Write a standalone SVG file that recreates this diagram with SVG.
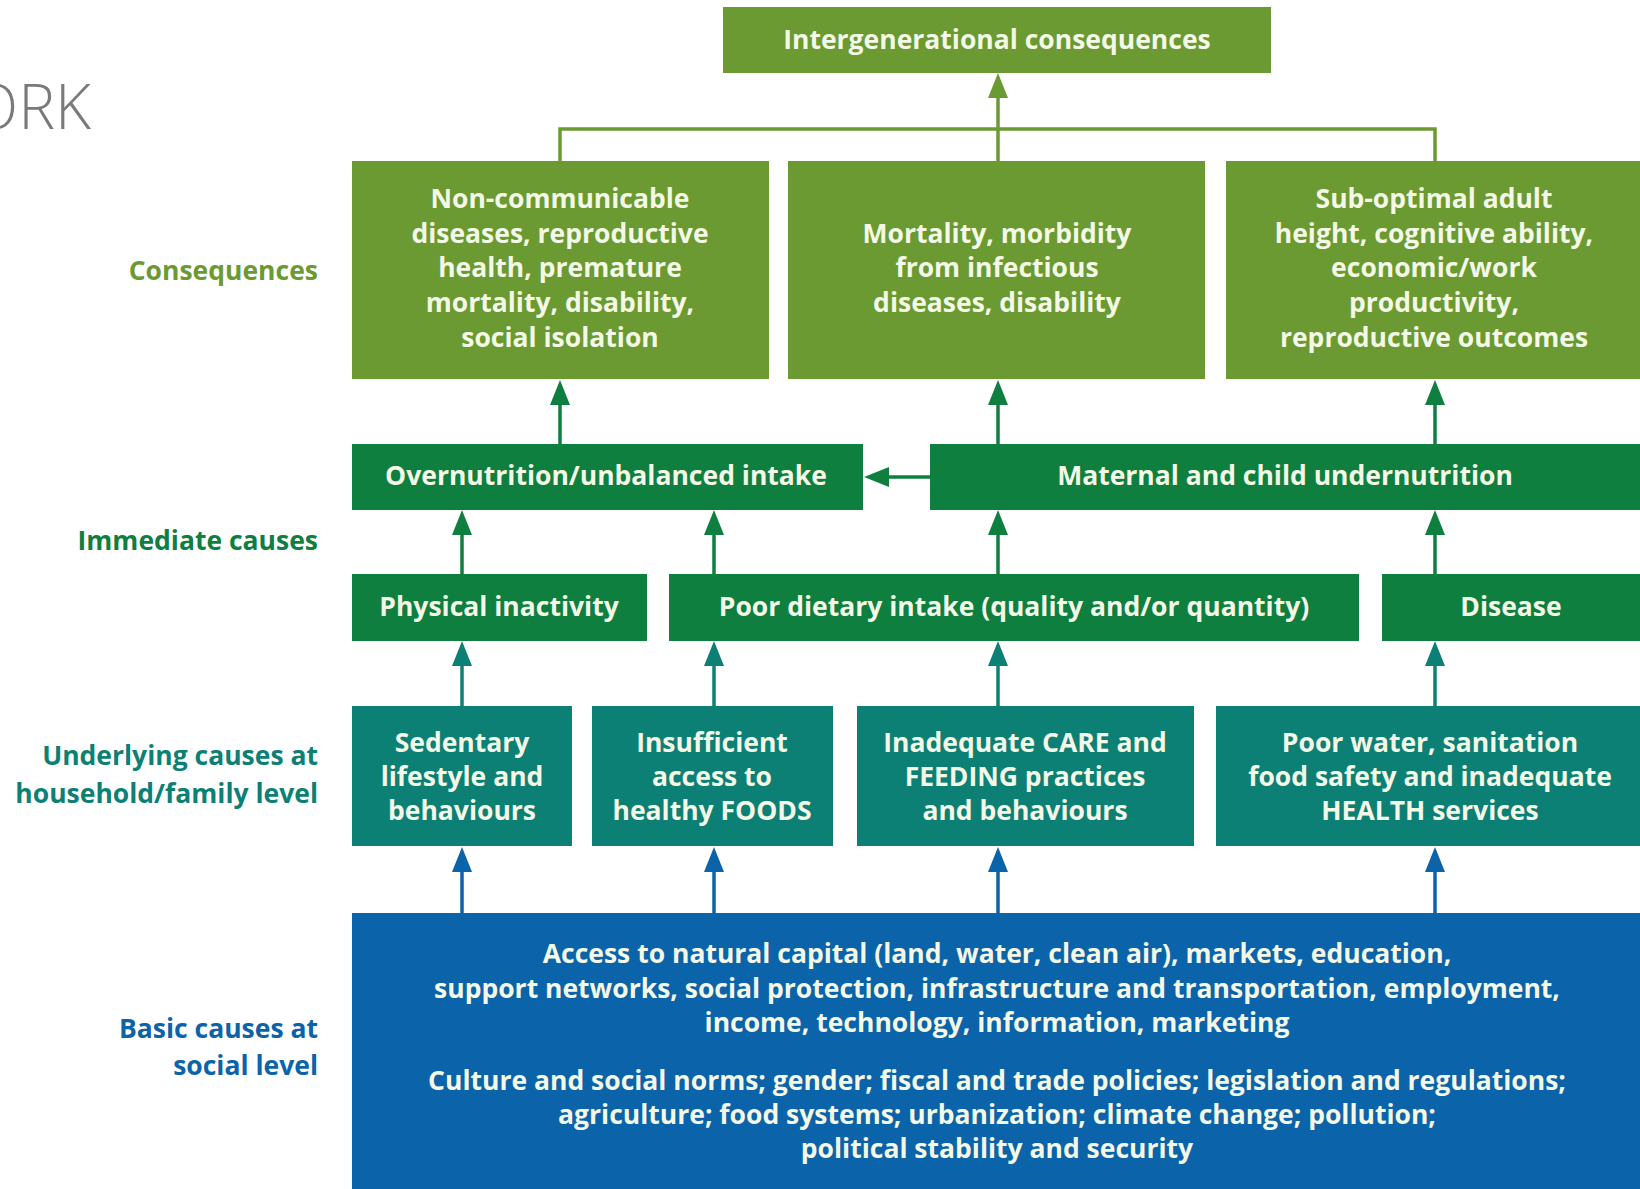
<svg xmlns="http://www.w3.org/2000/svg" width="1640" height="1189" viewBox="0 0 1640 1189">
  <style>
    .box-olive { fill: #6a9a31; }
    .box-green { fill: #0e7f3f; }
    .box-teal { fill: #0d8075; }
    .box-blue { fill: #0b63aa; }
    .t { font-family: "Open Sans", "Liberation Sans", sans-serif; font-weight: 700; font-size: 26.5px; fill: #f4f8e6; text-anchor: middle; }
    .lbl { font-family: "Open Sans", "Liberation Sans", sans-serif; font-weight: 700; font-size: 26.5px; text-anchor: end; }
    .title { font-family: "Open Sans", "Liberation Sans", sans-serif; font-weight: 300; font-size: 62px; fill: #7a7a7a; text-anchor: end; }
    .ln { fill: none; stroke-width: 3.5; }
    .ln-olive { stroke: #6a9a31; }
    .ln-green { stroke: #0e7f3f; }
    .ln-teal { stroke: #0d8075; }
    .ln-blue { stroke: #0b63aa; }
  </style>
  <defs>
    <marker id="ah-olive" viewBox="0 0 25 20" refX="4" refY="10" markerWidth="25" markerHeight="20" markerUnits="userSpaceOnUse" orient="auto">
      <path d="M0,0 L25,10 L0,20 z" fill="#6a9a31"/>
    </marker>
    <marker id="ah-green" viewBox="0 0 25 20" refX="4" refY="10" markerWidth="25" markerHeight="20" markerUnits="userSpaceOnUse" orient="auto">
      <path d="M0,0 L25,10 L0,20 z" fill="#0e7f3f"/>
    </marker>
    <marker id="ah-teal" viewBox="0 0 25 20" refX="4" refY="10" markerWidth="25" markerHeight="20" markerUnits="userSpaceOnUse" orient="auto">
      <path d="M0,0 L25,10 L0,20 z" fill="#0d8075"/>
    </marker>
    <marker id="ah-blue" viewBox="0 0 25 20" refX="4" refY="10" markerWidth="25" markerHeight="20" markerUnits="userSpaceOnUse" orient="auto">
      <path d="M0,0 L25,10 L0,20 z" fill="#0b63aa"/>
    </marker>
  </defs>

  <rect width="1640" height="1189" fill="#ffffff"/>

  <!-- slide heading, cut at the left edge -->
  <text class="title" x="91" y="129">ORK</text>

  <!-- level labels -->
  <g id="labels">
    <text class="lbl" x="318" y="280" fill="#6a9a31">Consequences</text>
    <text class="lbl" x="318" y="550" fill="#0e7f3f">Immediate causes</text>
    <text class="lbl" x="318" y="765" fill="#0d8075">Underlying causes at</text>
    <text class="lbl" x="318" y="803" fill="#0d8075">household/family level</text>
    <text class="lbl" x="318" y="1038" fill="#0b63aa">Basic causes at</text>
    <text class="lbl" x="318" y="1075" fill="#0b63aa">social level</text>
  </g>

  <!-- connectors -->
  <g id="connectors">
    <path class="ln ln-olive" d="M560,161 V129 H1435 V161"/>
    <line class="ln ln-olive" x1="998" y1="161" x2="998" y2="94" marker-end="url(#ah-olive)"/>

    <line class="ln ln-green" x1="560" y1="444" x2="560" y2="401" marker-end="url(#ah-green)"/>
    <line class="ln ln-green" x1="998" y1="444" x2="998" y2="401" marker-end="url(#ah-green)"/>
    <line class="ln ln-green" x1="1435" y1="444" x2="1435" y2="401" marker-end="url(#ah-green)"/>

    <line class="ln ln-green" x1="930" y1="477" x2="885" y2="477" marker-end="url(#ah-green)"/>

    <line class="ln ln-green" x1="462" y1="574" x2="462" y2="531" marker-end="url(#ah-green)"/>
    <line class="ln ln-green" x1="714" y1="574" x2="714" y2="531" marker-end="url(#ah-green)"/>
    <line class="ln ln-green" x1="998" y1="574" x2="998" y2="531" marker-end="url(#ah-green)"/>
    <line class="ln ln-green" x1="1435" y1="574" x2="1435" y2="531" marker-end="url(#ah-green)"/>

    <line class="ln ln-teal" x1="462" y1="706" x2="462" y2="662" marker-end="url(#ah-teal)"/>
    <line class="ln ln-teal" x1="714" y1="706" x2="714" y2="662" marker-end="url(#ah-teal)"/>
    <line class="ln ln-teal" x1="998" y1="706" x2="998" y2="662" marker-end="url(#ah-teal)"/>
    <line class="ln ln-teal" x1="1435" y1="706" x2="1435" y2="662" marker-end="url(#ah-teal)"/>

    <line class="ln ln-blue" x1="462" y1="913" x2="462" y2="868" marker-end="url(#ah-blue)"/>
    <line class="ln ln-blue" x1="714" y1="913" x2="714" y2="868" marker-end="url(#ah-blue)"/>
    <line class="ln ln-blue" x1="998" y1="913" x2="998" y2="868" marker-end="url(#ah-blue)"/>
    <line class="ln ln-blue" x1="1435" y1="913" x2="1435" y2="868" marker-end="url(#ah-blue)"/>
  </g>

  <!-- top -->
  <g id="intergenerational">
    <rect class="box-olive" x="723" y="7" width="548" height="66"/>
    <text class="t" x="997" y="49">Intergenerational consequences</text>
  </g>

  <!-- consequences -->
  <g id="ncd">
    <rect class="box-olive" x="352" y="161" width="417" height="218"/>
    <text class="t" x="560" y="208">Non-communicable</text>
    <text class="t" x="560" y="243">diseases, reproductive</text>
    <text class="t" x="560" y="277">health, premature</text>
    <text class="t" x="560" y="312">mortality, disability,</text>
    <text class="t" x="560" y="347">social isolation</text>
  </g>
  <g id="mortality">
    <rect class="box-olive" x="788" y="161" width="417" height="218"/>
    <text class="t" x="997" y="243">Mortality, morbidity</text>
    <text class="t" x="997" y="277">from infectious</text>
    <text class="t" x="997" y="312">diseases, disability</text>
  </g>
  <g id="suboptimal">
    <rect class="box-olive" x="1226" y="161" width="414" height="218"/>
    <text class="t" x="1434" y="208">Sub-optimal adult</text>
    <text class="t" x="1434" y="243">height, cognitive ability,</text>
    <text class="t" x="1434" y="277">economic/work</text>
    <text class="t" x="1434" y="312">productivity,</text>
    <text class="t" x="1434" y="347">reproductive outcomes</text>
  </g>

  <!-- immediate causes -->
  <g id="overnutrition">
    <rect class="box-green" x="352" y="444" width="511" height="66"/>
    <text class="t" x="606" y="485">Overnutrition/unbalanced intake</text>
  </g>
  <g id="undernutrition">
    <rect class="box-green" x="930" y="444" width="710" height="66"/>
    <text class="t" x="1285" y="485">Maternal and child undernutrition</text>
  </g>
  <g id="inactivity">
    <rect class="box-green" x="352" y="574" width="295" height="67"/>
    <text class="t" x="499" y="616">Physical inactivity</text>
  </g>
  <g id="dietary">
    <rect class="box-green" x="669" y="574" width="690" height="67"/>
    <text class="t" x="1014" y="616">Poor dietary intake (quality and/or quantity)</text>
  </g>
  <g id="disease">
    <rect class="box-green" x="1382" y="574" width="258" height="67"/>
    <text class="t" x="1511" y="616">Disease</text>
  </g>

  <!-- underlying causes -->
  <g id="sedentary">
    <rect class="box-teal" x="352" y="706" width="220" height="140"/>
    <text class="t" x="462" y="752">Sedentary</text>
    <text class="t" x="462" y="786">lifestyle and</text>
    <text class="t" x="462" y="820">behaviours</text>
  </g>
  <g id="foods">
    <rect class="box-teal" x="592" y="706" width="241" height="140"/>
    <text class="t" x="712" y="752">Insufficient</text>
    <text class="t" x="712" y="786">access to</text>
    <text class="t" x="712" y="820">healthy FOODS</text>
  </g>
  <g id="care">
    <rect class="box-teal" x="857" y="706" width="337" height="140"/>
    <text class="t" x="1025" y="752">Inadequate CARE and</text>
    <text class="t" x="1025" y="786">FEEDING practices</text>
    <text class="t" x="1025" y="820">and behaviours</text>
  </g>
  <g id="water">
    <rect class="box-teal" x="1216" y="706" width="424" height="140"/>
    <text class="t" x="1430" y="752">Poor water, sanitation</text>
    <text class="t" x="1430" y="786">food safety and inadequate</text>
    <text class="t" x="1430" y="820">HEALTH services</text>
  </g>

  <!-- basic causes -->
  <g id="basic">
    <rect class="box-blue" x="352" y="913" width="1288" height="276"/>
    <text class="t" x="997" y="963">Access to natural capital (land, water, clean air), markets, education,</text>
    <text class="t" x="997" y="998">support networks, social protection, infrastructure and transportation, employment,</text>
    <text class="t" x="997" y="1032">income, technology, information, marketing</text>
    <text class="t" x="997" y="1090">Culture and social norms; gender; fiscal and trade policies; legislation and regulations;</text>
    <text class="t" x="997" y="1124">agriculture; food systems; urbanization; climate change; pollution;</text>
    <text class="t" x="997" y="1158">political stability and security</text>
  </g>
</svg>
